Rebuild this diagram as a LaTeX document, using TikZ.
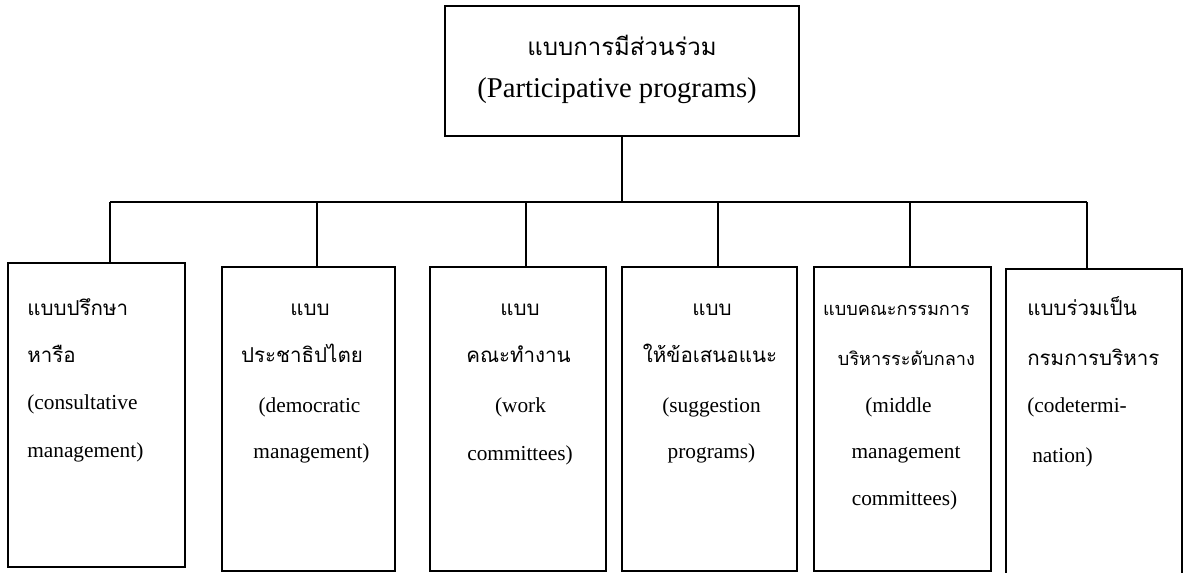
\documentclass[tikz,border=0pt]{standalone}
\usepackage{fontspec}
\setmainfont{Liberation Serif}
\newfontfamily\thai[Script=Thai]{Loma}
\usetikzlibrary{fit}
\begin{document}
\begin{tikzpicture}[x=0.75pt,y=-0.75pt,
  box/.style={draw, line width=1.3pt, inner sep=0pt},
  conn/.style={line width=1.3pt},
  tbig/.style={inner sep=0pt, anchor=base, font=\thai\fontsize{18}{20}\selectfont},
  lbig/.style={inner sep=0pt, anchor=base, font=\fontsize{21.5}{24}\selectfont},
  tsm/.style={inner sep=0pt, anchor=base, font=\thai\fontsize{15.4}{18}\selectfont},
  tnarrow/.style={inner sep=0pt, anchor=base, font=\thai\fontsize{13.6}{16}\selectfont},
  lsm/.style={inner sep=0pt, anchor=base, font=\fontsize{16}{18}\selectfont}
]
\useasboundingbox (0,0) rectangle (1183,572);
\clip (0,0) rectangle (1183,572);
\fill[white] (0,0) rectangle (1183,572);

% boxes
\node[box, fit={(445,6) (799,136)}] (top) {};
\node[box, fit={(8,263) (185,567)}] (b1) {};
\node[box, fit={(222,267) (395,571)}] (b2) {};
\node[box, fit={(430,267) (606,571)}] (b3) {};
\node[box, fit={(622,267) (797,571)}] (b4) {};
\node[box, fit={(814,267) (991,571)}] (b5) {};
\node[box, fit={(1006,269) (1182,580)}] (b6) {};

% connectors
\coordinate (d1) at (110,202);
\coordinate (d2) at (317,202);
\coordinate (d3) at (526,202);
\coordinate (d4) at (718,202);
\coordinate (d5) at (910,202);
\coordinate (d6) at (1087,202);
\draw[conn] (top.south) -- (top.south |- d1);
\draw[conn] (d1) -- (d6);
\draw[conn] (d1) -- (d1 |- b1.north);
\draw[conn] (d2) -- (d2 |- b2.north);
\draw[conn] (d3) -- (d3 |- b3.north);
\draw[conn] (d4) -- (d4 |- b4.north);
\draw[conn] (d5) -- (d5 |- b5.north);
\draw[conn] (d6) -- (d6 |- b6.north);

% top text
\node[tbig] (t1) at (622,55) {แบบการมีส่วนร่วม};
\node[lbig] (t2) at (617,97) {(Participative programs)};

% box 1
\node[tsm, anchor=base west] (a1) at (27,315) {แบบปรึกษา};
\node[tsm, anchor=base west] (a2) at (27,362) {หารือ};
\node[lsm, anchor=base west] (a3) at (27,409) {(consultative};
\node[lsm, anchor=base west] (a4) at (27,457) {management)};

% box 2
\node[tsm] (c1) at (310,315) {แบบ};
\node[tsm] (c2) at (302,362) {ประชาธิปไตย};
\node[lsm] (c3) at (309.5,412) {(democratic};
\node[lsm] (c4) at (311.5,458) {management)};

% box 3
\node[tsm] (e1) at (520,315) {แบบ};
\node[tsm] (e2) at (518.5,362) {คณะทำงาน};
\node[lsm] (e3) at (520.5,412) {(work};
\node[lsm] (e4) at (520,460) {committees)};

% box 4
\node[tsm] (f1) at (712,315) {แบบ};
\node[tsm] (f2) at (710,362) {ให้ข้อเสนอแนะ};
\node[lsm] (f3) at (711.5,412) {(suggestion};
\node[lsm] (f4) at (711.5,458) {programs)};

% box 5
\node[tnarrow] (g1) at (896.5,315) {แบบคณะกรรมการ};
\node[tnarrow] (g2) at (906.5,365) {บริหารระดับกลาง};
\node[lsm] (g3) at (898.5,412) {(middle};
\node[lsm] (g4) at (906,458) {management};
\node[lsm] (g5) at (904.5,505) {committees)};

% box 6
\node[tsm, anchor=base west] (h1) at (1027,315) {แบบร่วมเป็น};
\node[tsm, anchor=base west] (h2) at (1027,365) {กรมการบริหาร};
\node[lsm, anchor=base west] (h3) at (1027,412) {(codetermi-};
\node[lsm, anchor=base west] (h4) at (1032,462) {nation)};
\end{tikzpicture}
\end{document}
